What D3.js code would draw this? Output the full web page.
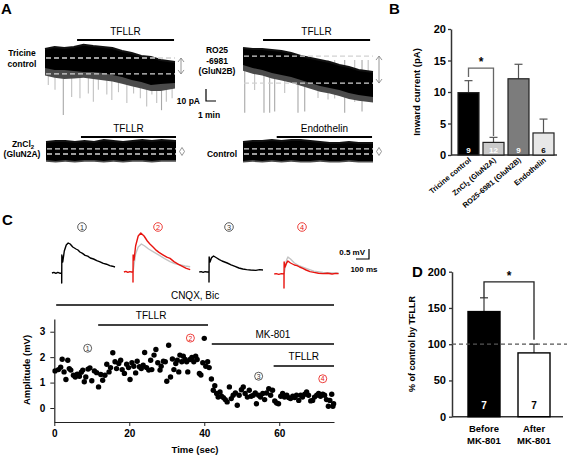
<!DOCTYPE html>
<html><head><meta charset="utf-8">
<script src="https://cdn.jsdelivr.net/npm/d3@7"></script>
<style>
body{margin:0;background:#fff}
svg{display:block}
text{font-family:"Liberation Sans",Arial,Helvetica,sans-serif;fill:#000}
.b{font-weight:bold}
</style>
</head><body>
<svg id="c" width="567" height="456"></svg>
<script>
// ---------------- Panel A : trace envelopes ----------------
const aEnvTime = [0,1,2,3,4,5,6,7,8,9,10,11,12,13.5];        // minutes
const a1Top    = [0,1.7,0.8,1.7,3.5,2.5,1.7,0.8,-1.7,-3.3,-5.8,-6.7,-9.2,-10.8];
const a1Bottom = [-15.8,-17.5,-17.5,-18.3,-19.2,-19.2,-20,-21.7,-23.3,-25.8,-27.5,-30,-29.2,-28.3];
const a1Fringe = [-22,-24,-25,-24.5,-24,-25,-26,-27,-29,-31,-33,-35,-35,-33];
const a1SpikeTime  = [0.34,1.04,1.9,2.77,3.63,4.5,5.02,5.54,6.42,6.94,7.63,8.5,9.2,9.9,10.56,11.1,11.6,12.1,12.6,13.2];
const a1SpikeDepth = [-30,-34,-55,-40,-41,-37,-44,-34,-38,-42.5,-36,-45,-37,-41,-48,-38,-45,-51,-44,-41];
const a1Levels = [-7.5,-20.8];

const a2Top    = [0,-0.8,-0.8,-1.7,-2.5,-4.2,-6.7,-8.3,-10,-11.7,-14.2,-15.8,-18.3,-20];
const a2Bottom = [-14.2,-16.7,-18.3,-20.8,-22.5,-24.2,-26.7,-29.2,-31.7,-33.3,-35,-37.5,-39.2,-40.8];
const a2Fringe = [-19,-21.5,-23,-25.5,-27,-29,-31.5,-34,-36.5,-38,-40,-42.5,-44,-45.5];
const a2SpikeTime  = [0.18,1.21,2.18,2.77,3.29,4.33,5.71,6.41,7.79,8.83,9.52,10.56,11.6,12.36,13.0];
const a2SpikeDepth = [-54,-35,-54,-54,-53,-37.5,-54,-53,-41.7,-43,-42,-54,-45,-53,-43];
const a2Levels = [-6.7,-29.2];

const a3Top    = [0,0.8,0.8,0,0.8,0,1.7,0.8,0,0.8,1.7,0.8,1.7,0.8];
const a3Bottom = [-15,-15.8,-15,-15.8,-15,-15,-15.8,-15,-15.8,-15,-15,-15.8,-15,-15];
const a3Fringe = [-16.5,-17,-16.5,-17,-16.5,-16.5,-17,-16.5,-17,-16.5,-16.5,-17,-16.5,-16.5];
const a3Levels = [-5.8,-10];

const a4Top    = [0,0.8,0.8,1.7,0.8,1.7,1.7,0.8,0,-0.8,-0.8,0,-0.8,-0.8];
const a4Bottom = [-15.8,-15,-15.8,-15,-15.8,-15,-15.8,-15.8,-15,-15.8,-15.8,-15,-15.8,-15.8];
const a4Fringe = [-17,-16.5,-17,-16.5,-17,-16.5,-17,-17,-16.5,-17,-17,-16.5,-17,-17];
const a4Levels = [-5.8,-10];

const aDrugLabels = ["TFLLR","TFLLR","TFLLR","Endothelin"];
const aDrugStart  = [3.33,2.08,3.63,3.5];   // minutes
const aDrugEnd    = [13.4,13.2,13.5,13.4];

// ---------------- Panel B ----------------
const bCategories = ["Tricine control","ZnCl2 (GluN2A)","RO25-6981 (GluN2B)","Endothelin"];
const bValues = [9.9, 2.0, 12.1, 3.5];
const bErrors = [1.9, 0.8, 2.3, 2.2];
const bN = ["9","12","9","6"];
const bTicks = [0,5,10,15,20];
const bColors = ["#000000","#cacaca","#7c7c7c","#e8e8e8"];
const bNColors = ["#fff","#fff","#fff","#000"];

// ---------------- Panel C : EPSP traces (ms, mV) ----------------
const cTrace1 = [[-75,0],[-60,0.03],[-45,-0.02],[-30,0.03],[-15,-0.01],[0,0],[0,-0.5],[1,0.9],[8,0.55],[20,1.1],[35,1.4],[50,1.5],[65,1.45],[85,1.3],[110,1.2],[125,1.15],[140,1.05],[160,0.98],[180,0.88],[200,0.84],[220,0.75],[245,0.7],[270,0.62],[295,0.56],[320,0.48],[345,0.44],[370,0.37],[390,0.34],[410,0.3]];
const cTrace2 = [[-70,0],[-55,0.03],[-40,-0.02],[-25,0.02],[-10,0],[0,0],[0,-0.5],[1,0.85],[8,0.6],[20,1.3],[40,1.8],[60,1.95],[85,1.8],[110,1.55],[130,1.4],[154,1.25],[180,1.08],[200,0.98],[230,0.86],[260,0.74],[285,0.68],[315,0.52],[350,0.38],[380,0.28],[410,0.18],[440,0.12]];
const cTrace2Ctl = [[0,0],[20,0.9],[40,1.25],[65,1.4],[90,1.3],[120,1.15],[154,1.02],[200,0.84],[240,0.68],[285,0.52],[320,0.42],[360,0.36],[400,0.3],[440,0.26]];
const cTrace3 = [[-75,0],[-60,0.02],[-45,-0.02],[-30,0.02],[-15,0],[0,0],[0,-0.5],[1,0.75],[8,0.5],[20,0.72],[35,0.8],[60,0.7],[80,0.62],[100,0.55],[120,0.5],[140,0.45],[170,0.36],[200,0.28],[230,0.2],[260,0.15],[290,0.12],[320,0.1],[360,0.08],[390,0.12],[415,0.1]];
const cTrace4 = [[-75,0],[-60,0.02],[-40,-0.02],[-20,0.02],[0,0],[0,-0.7],[1,0.6],[8,0.35],[20,0.55],[30,0.65],[50,0.55],[80,0.45],[100,0.42],[120,0.35],[145,0.28],[170,0.2],[200,0.12],[230,0.08],[265,0.04],[300,0.02],[335,0.04],[370,0.0],[400,0.03],[420,0.02]];
const cTrace4Ctl = [[0,0],[20,0.7],[30,0.85],[50,0.75],[80,0.55],[120,0.4],[170,0.28],[230,0.14],[300,0.08],[360,0.06],[420,0.05]];
const cTraceLabels = ["1","2","3","4"];

// ---------------- Panel C : amplitude vs time ----------------
const cTime = [0.2,1.1,1.7,2.1,2.6,3.1,3.6,4.0,4.4,5.1,5.6,6.1,6.7,7.2,7.6,8.0,8.4,9.0,9.5,10.0,10.7,11.3,11.8,12.4,12.9,13.5,14.0,14.6,15.0,15.6,16.2,16.6,17.2,17.7,18.1,18.7,19.3,19.8,20.2,20.7,21.2,21.7,22.1,22.7,23.2,23.7,24.1,24.6,25.2,25.7,26.0,26.6,27.1,27.6,28.2,28.5,29.1,29.6,30.0,30.5,31.0,31.5,31.9,32.4,32.8,33.2,33.5,34.0,34.4,34.9,35.3,35.6,36.2,36.7,37.2,37.7,38.1,38.7,39.1,39.6,40.0,40.4,40.9,41.3,41.9,42.4,42.8,43.3,43.7,44.2,44.6,45.1,45.6,46.1,46.7,47.2,47.7,48.3,48.8,49.3,49.9,50.4,50.9,51.5,52.0,52.5,53.1,53.6,53.9,54.5,55.0,55.6,56.1,56.6,57.2,57.7,58.2,58.8,59.3,59.8,60.4,60.9,61.4,62.0,62.5,63.0,63.6,64.1,64.6,65.2,65.7,66.2,66.8,67.3,67.8,68.4,68.9,69.4,70.0,70.5,71.0,71.6,72.1,72.6,73.1,73.5,74.0,74.3,74.5];
const cAmp = [1.46,1.51,1.6,1.92,1.42,1.12,1.88,1.55,1.49,1.29,1.22,1.33,1.25,1.41,1.49,1.03,1.22,1.53,1.58,1.07,1.46,1.39,0.83,1.32,1.09,1.29,1.72,1.42,1.59,2.17,1.82,1.55,1.75,1.88,1.51,1.36,1.72,1.59,1.12,1.78,1.64,1.38,1.84,1.62,1.55,1.68,2.18,1.59,1.49,1.88,1.51,2.08,2.3,1.78,1.49,1.64,1.84,1.82,1.05,2.47,1.22,1.93,1.51,1.75,1.88,1.42,2.08,1.82,2.04,1.91,1.82,1.42,1.91,1.99,1.82,2.04,1.91,1.36,1.3,1.78,2.74,1.64,1.82,1.59,1.14,0.7,0.88,0.57,0.43,0.63,0.46,0.41,0.33,0.24,0.83,0.37,0.5,0.59,0.11,0.5,0.72,0.83,0.57,0.43,0.7,0.46,0.5,0.59,0.17,0.5,0.43,0.57,0.33,0.59,0.76,0.5,0.7,0.28,0.2,0.17,0.46,0.57,0.43,0.5,0.41,0.37,0.46,0.41,0.5,0.3,0.5,0.43,0.54,0.63,0.5,0.28,0.3,0.43,0.5,0.57,0.46,0.54,0.5,0.33,0.07,0.3,0.54,0.07,0.17];
const cXTicks = [0,20,40,60];
const cYTicks = [0,1,2,3];
const cDrugLabels = ["CNQX, Bic","TFLLR","MK-801","TFLLR"];
const cDrugStart  = [0.5,11.7,42,58.5];
const cDrugEnd    = [74.6,41,74.6,74.6];
const cMarkLabels = ["1","2","3","4"];
const cMarkTime   = [8.9,36.3,54.5,71.6];
const cMarkAmp    = [2.35,2.75,1.25,1.15];

// ---------------- Panel D ----------------
const dCategories = [["Before","MK-801"],["After","MK-801"]];
const dValues = [145, 88];
const dErrors = [19, 12];
const dN = ["7","7"];
const dTicks = [0,50,100,150,200];
const dColors = ["#000","#fff"];
const dNColors = ["#fff","#000"];

// ======================================================================
const svg = d3.select("#c");
const FONT = '"Liberation Sans",Arial,sans-serif';

function letter(t,x,y){ svg.append("text").attr("x",x).attr("y",y).attr("class","b").attr("font-size",15).text(t); }
letter("A",1,14); letter("B",389,14); letter("C",2,225); letter("D",412,277);

function circled(t,x,y,r,color){
  const g = svg.append("g");
  g.append("circle").attr("cx",x).attr("cy",y).attr("r",r).attr("fill","none").attr("stroke",color).attr("stroke-width",0.8);
  g.append("text").attr("x",x).attr("y",y+r*0.62).attr("text-anchor","middle").attr("font-size",r*1.7).style("fill",color).text(t);
}

// ---------------- Panel A drawing ----------------
function drawTrace(cfg){
  const x = d3.scaleLinear().domain([0,13.5]).range([cfg.x0, cfg.x0+130]);
  const y = d3.scaleLinear().domain([0,-50]).range([cfg.y0, cfg.y0+60]);
  const g = svg.append("g");
  (cfg.spikeTime||[]).forEach((t,i)=>{
    g.append("line").attr("x1",x(t)).attr("x2",x(t)).attr("y1",y(-10)).attr("y2",y(cfg.spikeDepth[i]))
      .attr("stroke", cfg.spikeDepth[i] < -50 ? "#a8a8a8" : "#c0c0c0").attr("stroke-width",1.1);
  });
  const fr = d3.area().x((d,i)=>x(aEnvTime[i])).y0((d,i)=>y(cfg.top[i])).y1((d,i)=>y(cfg.fringe[i]));
  g.append("path").datum(cfg.top).attr("d",fr).attr("fill","#4a4a4a");
  const ar = d3.area().x((d,i)=>x(aEnvTime[i])).y0((d,i)=>y(cfg.top[i])).y1((d,i)=>y(cfg.bottom[i]));
  g.append("path").datum(cfg.top).attr("d",ar).attr("fill","#000");
  g.append("path").datum(cfg.top).attr("d",d3.line().x((d,i)=>x(aEnvTime[i])).y(d=>y(d)))
    .attr("fill","none").attr("stroke","#111").attr("stroke-width",2);
  cfg.levels.forEach(lv=>{
    g.append("line").attr("x1",x(0)+1).attr("x2",x(13.5)).attr("y1",y(lv)).attr("y2",y(lv))
      .attr("stroke", "#d2d2d2").attr("stroke-width",1.3).attr("stroke-dasharray","5,3");
  });
  g.append("line").attr("x1",x(cfg.drugStart)).attr("x2",x(cfg.drugEnd)).attr("y1",cfg.barY).attr("y2",cfg.barY)
    .attr("stroke","#000").attr("stroke-width",2.2);
  g.append("text").attr("x",(x(cfg.drugStart)+x(cfg.drugEnd))/2).attr("y",cfg.barY-5).attr("text-anchor","middle")
    .attr("font-size",10).text(cfg.drug);
  const ax = x(13.5)+6, ya = y(cfg.levels[0]), yb = y(cfg.levels[1]);
  const ag = g.append("g").attr("stroke","#8a8a8a").attr("fill","none").attr("stroke-width",0.9);
  if (yb - ya > 10){
    ag.append("line").attr("x1",ax).attr("x2",ax).attr("y1",ya).attr("y2",yb);
    ag.append("path").attr("d",`M${ax-3},${ya+4}L${ax},${ya}L${ax+3},${ya+4}`);
    ag.append("path").attr("d",`M${ax-3},${yb-4}L${ax},${yb}L${ax+3},${yb-4}`);
  } else {
    const m=(ya+yb)/2;
    ag.append("path").attr("d",`M${ax},${m-4}L${ax+2.5},${m}L${ax},${m+4}L${ax-2.5},${m}Z`);
  }
}
drawTrace({x0:45,y0:49,top:a1Top,bottom:a1Bottom,fringe:a1Fringe,spikeTime:a1SpikeTime,spikeDepth:a1SpikeDepth,levels:a1Levels,drug:aDrugLabels[0],drugStart:aDrugStart[0],drugEnd:aDrugEnd[0],barY:40});
drawTrace({x0:243,y0:48,top:a2Top,bottom:a2Bottom,fringe:a2Fringe,spikeTime:a2SpikeTime,spikeDepth:a2SpikeDepth,levels:a2Levels,drug:aDrugLabels[1],drugStart:aDrugStart[1],drugEnd:aDrugEnd[1],barY:40});
drawTrace({x0:46,y0:142,top:a3Top,bottom:a3Bottom,fringe:a3Fringe,levels:a3Levels,drug:aDrugLabels[2],drugStart:aDrugStart[2],drugEnd:aDrugEnd[2],barY:137});
drawTrace({x0:243,y0:142,top:a4Top,bottom:a4Bottom,fringe:a4Fringe,levels:a4Levels,drug:aDrugLabels[3],drugStart:aDrugStart[3],drugEnd:aDrugEnd[3],barY:137});

function multi(lines,x,y,dy,size){
  const t = svg.append("text").attr("class","b").attr("font-size",size).attr("text-anchor","middle");
  lines.forEach((l,i)=>{ t.append("tspan").attr("x",x).attr("y",y+i*dy).text(l); });
  return t;
}
multi(["Tricine","control"],22,56,11,8.5);
multi(["RO25","-6981","(GluN2B)"],217,53,10.5,8.5);
{
  const t = svg.append("text").attr("class","b").attr("font-size",8.5).attr("text-anchor","middle");
  t.append("tspan").attr("x",23).attr("y",147).text("ZnCl");
  t.append("tspan").attr("font-size",6).attr("dy",2).text("2");
  t.append("tspan").attr("x",22).attr("y",157).text("(GluN2A)");
}
svg.append("text").attr("class","b").attr("font-size",8.5).attr("text-anchor","middle").attr("x",222).attr("y",157).text("Control");

svg.append("path").attr("d","M206,89L206,101L216,101").attr("fill","none").attr("stroke","#000").attr("stroke-width",1.2);
svg.append("text").attr("class","b").attr("font-size",8.5).attr("text-anchor","end").attr("x",200).attr("y",104).text("10 pA");
svg.append("text").attr("class","b").attr("font-size",8.5).attr("text-anchor","middle").attr("x",209).attr("y",118).text("1 min");

// ---------------- Panel B ----------------
{
  const y = d3.scaleLinear().domain([0,20]).range([155,29]);
  const x = d3.scaleBand().domain(bCategories).range([456,556]).paddingInner(0.16).paddingOuter(0.08);
  const g = svg.append("g");
  g.append("g").attr("transform","translate(451,0)")
    .call(d3.axisLeft(y).tickValues(bTicks).tickSize(3).tickSizeOuter(0))
    .call(s=>{ s.select(".domain").attr("stroke","#333").attr("stroke-width",1.5);
               s.selectAll(".tick line").attr("stroke","#333").attr("stroke-width",1.3);
               s.selectAll("text").attr("class","b").attr("font-size",11).attr("font-family",FONT).attr("fill","#000").attr("x",-5); });
  g.append("line").attr("x1",451).attr("x2",557).attr("y1",155).attr("y2",155).attr("stroke","#333").attr("stroke-width",1.5);
  bCategories.forEach((c,i)=>{
    const cx = x(c)+x.bandwidth()/2;
    g.append("line").attr("x1",cx).attr("x2",cx).attr("y1",y(bValues[i])).attr("y2",y(bValues[i]+bErrors[i])).attr("stroke","#555").attr("stroke-width",1.2);
    g.append("line").attr("x1",cx-4).attr("x2",cx+4).attr("y1",y(bValues[i]+bErrors[i])).attr("y2",y(bValues[i]+bErrors[i])).attr("stroke","#555").attr("stroke-width",1.2);
    g.append("rect").attr("x",x(c)).attr("width",x.bandwidth()).attr("y",y(bValues[i])).attr("height",y(0)-y(bValues[i]))
      .attr("fill",bColors[i]).attr("stroke","#222").attr("stroke-width",1.2);
    g.append("text").attr("class","b").attr("font-size",8).attr("text-anchor","middle").attr("x",cx).attr("y",153)
      .style("fill",bNColors[i]).text(bN[i]);
    const lab = g.append("text").attr("class","b").attr("font-size",7.5).attr("text-anchor","end")
      .attr("transform",`translate(${cx+3},161) rotate(-40)`);
    if (c.startsWith("ZnCl2")){
      lab.append("tspan").text("ZnCl");
      lab.append("tspan").attr("font-size",5.5).attr("dy",1.5).text("2");
      lab.append("tspan").attr("dy",-1.5).text(" (GluN2A)");
    } else lab.text(c);
  });
  const c1 = x(bCategories[0])+x.bandwidth()/2, c2 = x(bCategories[1])+x.bandwidth()/2;
  g.append("path").attr("d",`M${c1},${y(12.4)}L${c1},${y(13.8)}L${c2},${y(13.8)}L${c2},${y(3.0)}`)
    .attr("fill","none").attr("stroke","#666").attr("stroke-width",1.3);
  g.append("text").attr("class","b").attr("font-size",12).attr("text-anchor","middle").attr("x",(c1+c2)/2).attr("y",y(13.8)-2).text("*");
  g.append("text").attr("class","b").attr("font-size",9.5).attr("text-anchor","middle")
    .attr("transform","translate(420,92) rotate(-90)").text("Inward current (pA)");
}

// ---------------- Panel C traces ----------------
{
  const sx = 0.13, sy = 20;
  const defs = [
    {d:cTrace1, stim:61.7, base:273, color:"#000"},
    {d:cTrace2Ctl, stim:133, base:272, color:"#c4c4c4"},
    {d:cTrace2, stim:133, base:272, color:"#e8140f"},
    {d:cTrace3, stim:209, base:272, color:"#000"},
    {d:cTrace4Ctl, stim:284, base:274, color:"#c4c4c4"},
    {d:cTrace4, stim:284, base:274, color:"#e8140f"}
  ];
  defs.forEach(o=>{
    const x = d3.scaleLinear().domain([0,100]).range([o.stim,o.stim+100*sx]);
    const y = d3.scaleLinear().domain([0,1]).range([o.base,o.base-sy]);
    svg.append("path").datum(o.d).attr("d",d3.line().x(p=>x(p[0])).y(p=>y(p[1])))
      .attr("fill","none").attr("stroke",o.color).attr("stroke-width",1.4).attr("stroke-linejoin","round");
  });
  const lx = [82,158,229,302], lc = ["#333","#e8140f","#333","#e8140f"];
  cTraceLabels.forEach((t,i)=>circled(t,lx[i],227,4.3,lc[i]));
  svg.append("path").attr("d","M356,259L369,259L369,249").attr("fill","none").attr("stroke","#000").attr("stroke-width",1.2);
  svg.append("text").attr("class","b").attr("font-size",8).attr("text-anchor","end").attr("x",365).attr("y",255).text("0.5 mV");
  svg.append("text").attr("class","b").attr("font-size",8).attr("text-anchor","middle").attr("x",364).attr("y",272).text("100 ms");
}

// ---------------- Panel C scatter ----------------
{
  const x = d3.scaleLinear().domain([0,74.6]).range([54.3,334]);
  const y = d3.scaleLinear().domain([-0.55,3.5]).range([422,319]);
  const g = svg.append("g");
  g.append("g").attr("transform","translate(54.3,0)")
    .call(d3.axisLeft(y).tickValues(cYTicks).tickFormat(d3.format("d")).tickSize(4).tickSizeOuter(0))
    .call(s=>{ s.select(".domain").attr("stroke","#222").attr("stroke-width",1.2);
               s.selectAll(".tick line").attr("stroke","#222");
               s.selectAll("text").attr("class","b").attr("font-size",10).attr("font-family",FONT).attr("fill","#000").attr("x",-9); });
  g.append("g").attr("transform","translate(0,422)")
    .call(d3.axisBottom(x).tickValues(cXTicks).tickFormat(d3.format("d")).tickSize(4).tickSizeOuter(0))
    .call(s=>{ s.select(".domain").attr("stroke","#222").attr("stroke-width",1.2);
               s.selectAll(".tick line").attr("stroke","#222");
               s.selectAll("text").attr("class","b").attr("font-size",10).attr("font-family",FONT).attr("fill","#000").attr("y",8); });
  g.selectAll("circle.pt").data(cTime).enter().append("circle").attr("class","pt")
    .attr("cx",d=>x(d)).attr("cy",(d,i)=>y(cAmp[i])).attr("r",2.7).attr("fill","#000");
  const barY = [305,325,344,366];
  cDrugLabels.forEach((t,i)=>{
    g.append("line").attr("x1",x(cDrugStart[i])).attr("x2",x(cDrugEnd[i])).attr("y1",barY[i]).attr("y2",barY[i]).attr("stroke","#000").attr("stroke-width",1.4);
    g.append("text").attr("font-size",10).attr("text-anchor","middle").attr("x",(x(cDrugStart[i])+x(cDrugEnd[i]))/2+(i==1?-2:0)).attr("y",barY[i]-6).text(t);
  });
  const mc = ["#333","#e8140f","#333","#e8140f"];
  cMarkLabels.forEach((t,i)=>circled(t,x(cMarkTime[i]),y(cMarkAmp[i]),4,mc[i]));
  g.append("text").attr("class","b").attr("font-size",9.5).attr("text-anchor","middle").attr("x",195).attr("y",453).text("Time (sec)");
  g.append("text").attr("class","b").attr("font-size",9.5).attr("text-anchor","middle")
    .attr("transform","translate(30,370) rotate(-90)").text("Amplitude (mV)");
}

// ---------------- Panel D ----------------
{
  const y = d3.scaleLinear().domain([0,200]).range([416.7,271.7]);
  const keys = dCategories.map(d=>d.join(" "));
  const x = d3.scaleBand().domain(keys).range([452,566]).paddingInner(0.36).paddingOuter(0.32);
  const g = svg.append("g");
  g.append("g").attr("transform","translate(452,0)")
    .call(d3.axisLeft(y).tickValues(dTicks).tickSize(3).tickSizeOuter(0))
    .call(s=>{ s.select(".domain").attr("stroke","#333").attr("stroke-width",1.5);
               s.selectAll(".tick line").attr("stroke","#333").attr("stroke-width",1.3);
               s.selectAll("text").attr("class","b").attr("font-size",11).attr("font-family",FONT).attr("fill","#000").attr("x",-6); });
  g.append("line").attr("x1",452).attr("x2",563).attr("y1",416.7).attr("y2",416.7).attr("stroke","#333").attr("stroke-width",1.5);
  keys.forEach((k,i)=>{
    const cx = x(k)+x.bandwidth()/2;
    g.append("line").attr("x1",cx).attr("x2",cx).attr("y1",y(dValues[i])).attr("y2",y(dValues[i]+dErrors[i])).attr("stroke","#444").attr("stroke-width",1.3);
    g.append("line").attr("x1",cx-4).attr("x2",cx+4).attr("y1",y(dValues[i]+dErrors[i])).attr("y2",y(dValues[i]+dErrors[i])).attr("stroke","#444").attr("stroke-width",1.3);
    g.append("rect").attr("x",x(k)).attr("width",x.bandwidth()).attr("y",y(dValues[i])).attr("height",y(0)-y(dValues[i]))
      .attr("fill",dColors[i]).attr("stroke","#000").attr("stroke-width",1.4);
    g.append("text").attr("class","b").attr("font-size",10).attr("text-anchor","middle").attr("x",cx).attr("y",409).style("fill",dNColors[i]).text(dN[i]);
    const t = g.append("text").attr("class","b").attr("font-size",9.5).attr("text-anchor","middle");
    dCategories[i].forEach((l,j)=>t.append("tspan").attr("x",cx).attr("y",432+j*11.5).text(l));
  });
  g.append("line").attr("x1",452).attr("x2",567).attr("y1",y(100)).attr("y2",y(100)).attr("stroke","#555").attr("stroke-width",1.2).attr("stroke-dasharray","4,3");
  const c1 = x(keys[0])+x.bandwidth()/2, c2 = x(keys[1])+x.bandwidth()/2;
  g.append("path").attr("d",`M${c1},${y(dValues[0]+dErrors[0])}L${c1},${y(186)}L${c2},${y(186)}L${c2},${y(106)}`)
    .attr("fill","none").attr("stroke","#222").attr("stroke-width",1.3);
  g.append("text").attr("class","b").attr("font-size",12).attr("text-anchor","middle").attr("x",(c1+c2)/2).attr("y",y(186)-2).text("*");
  g.append("text").attr("class","b").attr("font-size",9).attr("text-anchor","middle")
    .attr("transform","translate(415,344) rotate(-90)").text("% of control by TFLLR");
}
</script>
</body></html>
